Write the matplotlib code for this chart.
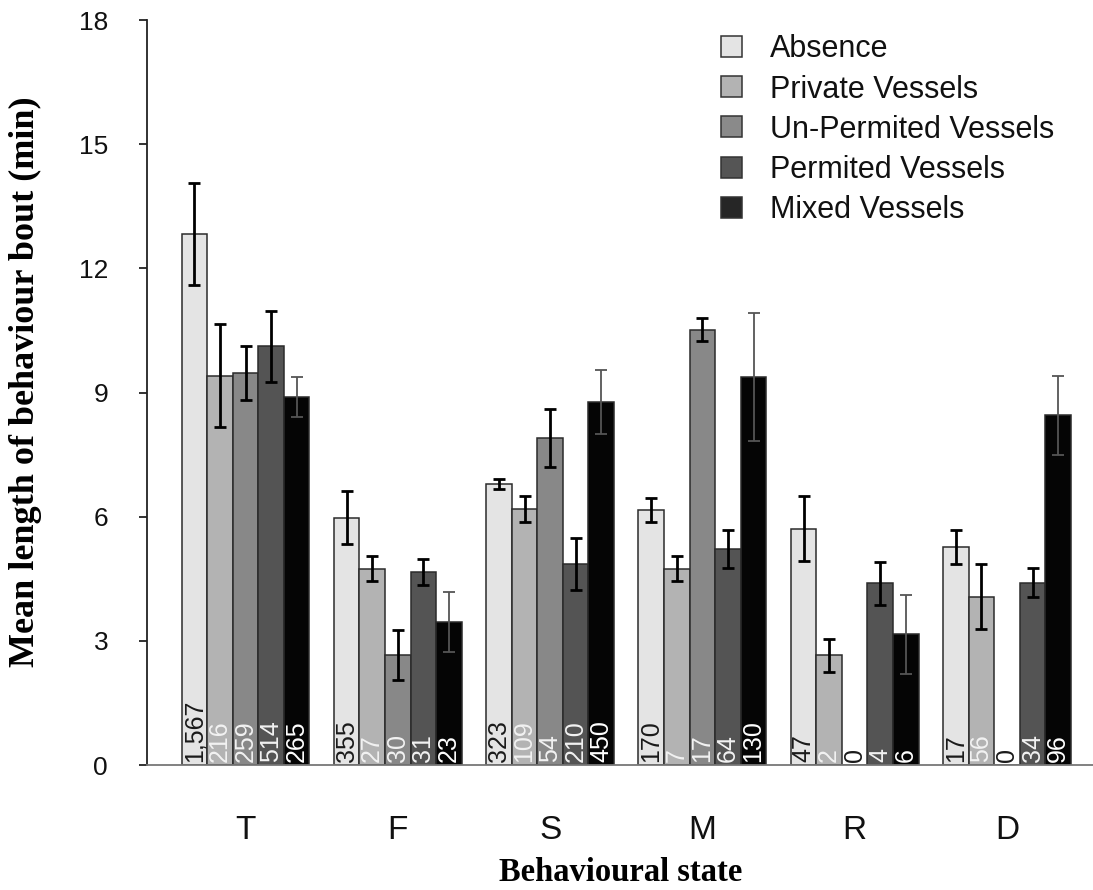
import numpy as np
import matplotlib
matplotlib.use("Agg")
import matplotlib.pyplot as plt
from matplotlib.patches import Patch

# behavioural states and vessel treatments
states = ["T", "F", "S", "M", "R", "D"]
treatments = ["Absence", "Private Vessels", "Un-Permited Vessels",
              "Permited Vessels", "Mixed Vessels"]

# mean bout length (min), one list per treatment, ordered by state
absence = [12.83, 5.98, 6.78, 6.15, 5.71, 5.27]
private = [9.41, 4.74, 6.18, 4.74, 2.65, 4.07]
unpermited = [9.48, 2.66, 7.90, 10.52, 0.0, 0.0]
permited = [10.12, 4.66, 4.86, 5.21, 4.39, 4.41]
mixed = [8.90, 3.45, 8.78, 9.38, 3.16, 8.45]

# standard errors
absence_se = [1.24, 0.64, 0.12, 0.29, 0.79, 0.41]
private_se = [1.24, 0.30, 0.32, 0.30, 0.39, 0.78]
unpermited_se = [0.65, 0.61, 0.70, 0.27, 0.0, 0.0]
permited_se = [0.86, 0.31, 0.63, 0.46, 0.52, 0.34]
mixed_se = [0.48, 0.72, 0.77, 1.54, 0.96, 0.95]

# number of bouts
absence_n = ["1,567", "355", "323", "170", "47", "17"]
private_n = ["216", "27", "109", "7", "2", "56"]
unpermited_n = ["259", "30", "54", "17", "0", "0"]
permited_n = ["514", "31", "210", "64", "4", "34"]
mixed_n = ["265", "23", "450", "130", "6", "96"]

means = [absence, private, unpermited, permited, mixed]
errors = [absence_se, private_se, unpermited_se, permited_se, mixed_se]
counts = [absence_n, private_n, unpermited_n, permited_n, mixed_n]

fills = ["#e4e4e4", "#b3b3b3", "#888888", "#545454", "#050505"]
legend_fills = ["#e4e4e4", "#b3b3b3", "#8a8a8a", "#555555", "#262626"]
label_colors = ["#1a1a1a", "#f2f2f2", "#f2f2f2", "#f2f2f2", "#ffffff"]
err_colors = ["black", "black", "black", "black", "#555555"]
err_widths = [2.0, 2.0, 2.0, 2.0, 1.3]

SANS = "Liberation Sans"
SERIF = "Liberation Serif"

fig = plt.figure(figsize=(10.93, 8.90), dpi=100)
ax = fig.add_axes([0.1345, 0.1404, 0.8655, 0.8371])

x = np.arange(len(states))
w = 0.168

for k in range(len(treatments)):
    pos = x + (k - 2) * w
    ax.bar(pos, means[k], width=w, color=fills[k], edgecolor="#2b2b2b",
           linewidth=1.1, zorder=2)
    for xi, m, e in zip(pos, means[k], errors[k]):
        if m > 0:
            ax.errorbar(xi, m, yerr=e, fmt="none", ecolor=err_colors[k],
                        elinewidth=err_widths[k], capsize=4.2,
                        capthick=err_widths[k], zorder=3)
    for xi, m, n in zip(pos, means[k], counts[k]):
        col = label_colors[k] if m > 0 else "#1a1a1a"
        ax.text(xi, 0.07, n, rotation=90, ha="center", va="bottom",
                fontsize=18, family=SANS, color=col, zorder=4)

ax.set_xlim(-0.647, 5.565)
ax.set_ylim(0, 18)
ax.set_yticks([0, 3, 6, 9, 12, 15, 18])
ax.set_xticks(x)
ax.set_xticklabels(states)

for s in ["top", "right"]:
    ax.spines[s].set_visible(False)
ax.spines["left"].set_color("#222222")
ax.spines["left"].set_linewidth(1.3)
ax.spines["bottom"].set_color("#777777")
ax.spines["bottom"].set_linewidth(1.3)

ax.tick_params(axis="y", length=6, width=1.3, color="#222222", pad=22,
               labelsize=19)
ax.tick_params(axis="x", length=0, pad=36, labelsize=24)
for lab in ax.get_xticklabels() + ax.get_yticklabels():
    lab.set_family(SANS)
    lab.set_color("#111111")

ax.set_ylabel("Mean length of behaviour bout (min)", family=SERIF,
              fontweight="bold", fontsize=26)
ax.yaxis.set_label_coords(-0.111, 0.515)
ax.set_xlabel("Behavioural state", family=SERIF, fontweight="bold",
              fontsize=23.5)
ax.xaxis.set_label_coords(0.501, -0.124)

handles = [Patch(facecolor=c, edgecolor="#333333", linewidth=1.1)
           for c in legend_fills]
leg = ax.legend(handles, treatments, loc="upper left",
                bbox_to_anchor=(0.594, 0.997), frameon=False,
                prop={"family": SANS, "size": 22},
                handlelength=0.68, handleheight=0.68, handletextpad=0.92,
                labelspacing=0.33, borderaxespad=0)
for t in leg.get_texts():
    t.set_color("#111111")

fig.savefig("out.png", dpi=100, facecolor="white")
